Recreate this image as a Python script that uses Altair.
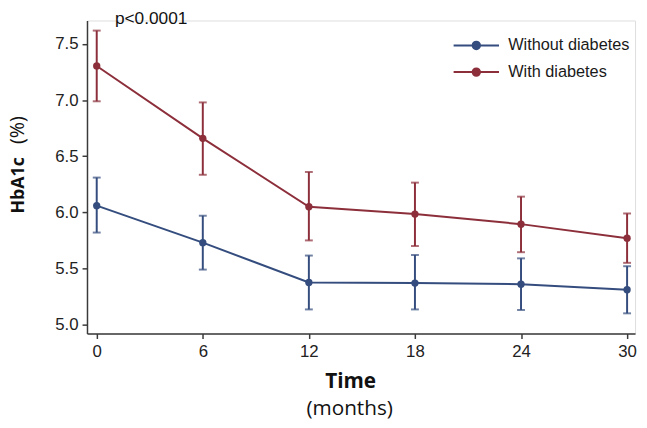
import altair as alt
import pandas as pd

months = [0, 6, 12, 18, 24, 30]
groups = ["Without diabetes", "With diabetes"]
without_mean = [6.06, 5.73, 5.375, 5.37, 5.36, 5.31]
without_lo = [5.82, 5.49, 5.135, 5.135, 5.13, 5.10]
without_hi = [6.31, 5.97, 5.615, 5.62, 5.59, 5.52]
with_mean = [7.305, 6.66, 6.05, 5.985, 5.895, 5.77]
with_lo = [6.99, 6.335, 5.75, 5.70, 5.645, 5.55]
with_hi = [7.62, 6.98, 6.36, 6.265, 6.14, 5.99]
colors = ["#344d7e", "#8c2f3b"]
x_ticks = [0, 6, 12, 18, 24, 30]
y_ticks = [5.0, 5.5, 6.0, 6.5, 7.0, 7.5]

rows = []
for g, m, lo, hi in [(groups[0], without_mean, without_lo, without_hi),
                     (groups[1], with_mean, with_lo, with_hi)]:
    for t, a, b, c in zip(months, m, lo, hi):
        rows.append({"group": g, "month": t, "mean": a, "lo": b, "hi": c})
df = pd.DataFrame(rows)

FONT = "Liberation Sans"
TFONT = "Open Sans"
AX = "#3a3a3a"

xs = alt.Scale(domain=[-0.55, 30.45], nice=False, zero=False)
ys = alt.Scale(domain=[4.92, 7.71], nice=False, zero=False)
cs = alt.Scale(domain=groups, range=colors)

legend_path = ("M-4.6,0H4.6 "
               "M0.75,0A0.75,0.75 0 1,1 -0.75,0A0.75,0.75 0 1,1 0.75,0 "
               "M0.45,0A0.45,0.45 0 1,1 -0.45,0A0.45,0.45 0 1,1 0.45,0 "
               "M0.15,0A0.15,0.15 0 1,1 -0.15,0A0.15,0.15 0 1,1 0.15,0")

color = alt.Color(
    "group:N", scale=cs, sort=groups,
    legend=alt.Legend(
        title=None, orient="none", legendX=386, legendY=17,
        symbolType=legend_path, symbolSize=100, symbolStrokeWidth=2,
        labelFont=FONT, labelFontSize=16.5, labelColor="#1a1a1a",
        labelOffset=24, rowPadding=10, padding=0,
    ),
)
color_nl = alt.Color("group:N", scale=cs, legend=None)

base = alt.Chart(df)

x_enc = alt.X("month:Q", scale=xs,
              axis=alt.Axis(values=x_ticks, title=None, grid=False,
                            labelFont=FONT, labelFontSize=17, labelColor="#222",
                            domainColor=AX, tickColor=AX, domainWidth=1.5,
                            tickWidth=1.5, tickSize=5, labelPadding=5))
y_enc = alt.Y("mean:Q", scale=ys,
              axis=alt.Axis(values=y_ticks, format=".1f", title=None, grid=False,
                            labelFont=FONT, labelFontSize=17, labelColor="#222",
                            domainColor=AX, tickColor=AX, domainWidth=1.5,
                            tickWidth=1.5, tickSize=5, labelPadding=4))

lines = base.mark_line(strokeWidth=2).encode(x=x_enc, y=y_enc, color=color)
bars = base.mark_rule(strokeWidth=2).encode(
    x="month:Q", y=alt.Y("lo:Q", scale=ys), y2="hi:Q", color=color_nl)
cap_lo = base.mark_tick(orient="horizontal", size=8, thickness=2).encode(
    x="month:Q", y=alt.Y("lo:Q", scale=ys), color=color_nl)
cap_hi = base.mark_tick(orient="horizontal", size=8, thickness=2).encode(
    x="month:Q", y=alt.Y("hi:Q", scale=ys), color=color_nl)
pts = base.mark_circle(size=55, opacity=1).encode(
    x="month:Q", y="mean:Q", color=color_nl)

ann = pd.DataFrame({"t": [0]})
def txt(text, x, y, size, weight="normal", angle=0, font=TFONT, align="center"):
    return alt.Chart(ann).mark_text(
        text=text, font=font, fontSize=size, fontWeight=weight, angle=angle,
        align=align, baseline="alphabetic", color="#111"
    ).encode(x=alt.value(x), y=alt.value(y))

p_txt = txt("p<0.0001", 65, 4, 17.5, font=FONT)
time_txt = txt("Time", 267, 372, 21, weight="bold")
months_txt = txt("(months)", 266, 400, 21)
hb_txt = txt("HbA1c", -64, 167, 18, weight="bold", angle=270)
pct_txt = txt("(%)", -64, 111, 20, angle=270)

chart = alt.layer(lines, bars, cap_lo, cap_hi, pts,
                  p_txt, time_txt, months_txt, hb_txt, pct_txt).properties(
    width=555, height=317,
    autosize=alt.AutoSizeParams(type="none"),
    padding={"left": 80, "top": 10, "right": 4, "bottom": 93},
).configure_view(stroke=None).configure(background="white")

chart.save("out.html", embed_options={"renderer": "svg", "actions": False})
